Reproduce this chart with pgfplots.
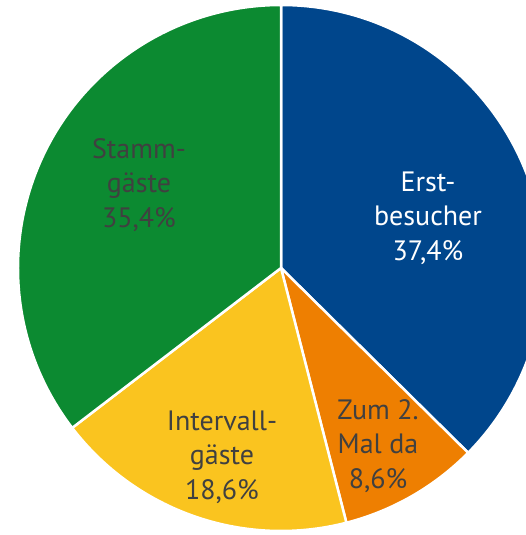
\documentclass[border=0pt]{standalone}
\usepackage{fontspec}
\setmainfont{PT Sans}
\usepackage{pgfplots}
\pgfplotsset{compat=1.18}
\definecolor{cBlue}{HTML}{00468C}
\definecolor{cOrange}{HTML}{EE7F01}
\definecolor{cYellow}{HTML}{FAC41F}
\definecolor{cGreen}{HTML}{0C8A31}
\definecolor{cText}{HTML}{404040}
\begin{document}
\begin{tikzpicture}
% shares in percent
\def\pA{37.4}% Erstbesucher
\def\pB{8.6}%  Zum 2. Mal da
\def\pC{18.6}% Intervallgaeste
\def\pD{35.4}% Stammgaeste
\pgfmathsetmacro\aO{90}
\pgfmathsetmacro\aA{\aO-3.6*\pA}
\pgfmathsetmacro\aB{\aA-3.6*\pB}
\pgfmathsetmacro\aC{\aB-3.6*\pC}
\pgfmathsetmacro\aD{\aC-3.6*\pD}
\def\R{263pt}
\begin{axis}[
  x=1pt, y=1pt,
  xmin=0, xmax=526, ymin=0, ymax=535,
  hide axis, clip=true, disabledatascaling,
  scale only axis,
]
\addplot[draw=none, forget plot] coordinates {(0,0) (526,535)};
\fill[cBlue,draw=white,line width=2.5pt,line join=round] (axis cs:281,267) -- ++(\aO:\R) arc[start angle=\aO, end angle=\aA, radius=\R] -- cycle;
\fill[cOrange,draw=white,line width=2.5pt,line join=round] (axis cs:281,267) -- ++(\aA:\R) arc[start angle=\aA, end angle=\aB, radius=\R] -- cycle;
\fill[cYellow,draw=white,line width=2.5pt,line join=round] (axis cs:281,267) -- ++(\aB:\R) arc[start angle=\aB, end angle=\aC, radius=\R] -- cycle;
\fill[cGreen,draw=white,line width=2.5pt,line join=round] (axis cs:281,267) -- ++(\aC:\R) arc[start angle=\aC, end angle=\aD, radius=\R] -- cycle;
\node[white,font=\fontsize{28}{34.5}\selectfont,align=center] at (axis cs:428,317) {Erst-\\besucher\\37,4\%};
\node[cText,font=\fontsize{28}{34.5}\selectfont,align=center] at (axis cs:139,350) {Stamm-\\gäste\\35,4\%};
\node[cText,font=\fontsize{28}{34.5}\selectfont,align=center] at (axis cs:222,78) {Intervall-\\gäste\\18,6\%};
\node[cText,font=\fontsize{28}{34.5}\selectfont,align=center] at (axis cs:378,89) {Zum 2.\\Mal da\\8,6\%};
\end{axis}
\end{tikzpicture}
\end{document}
